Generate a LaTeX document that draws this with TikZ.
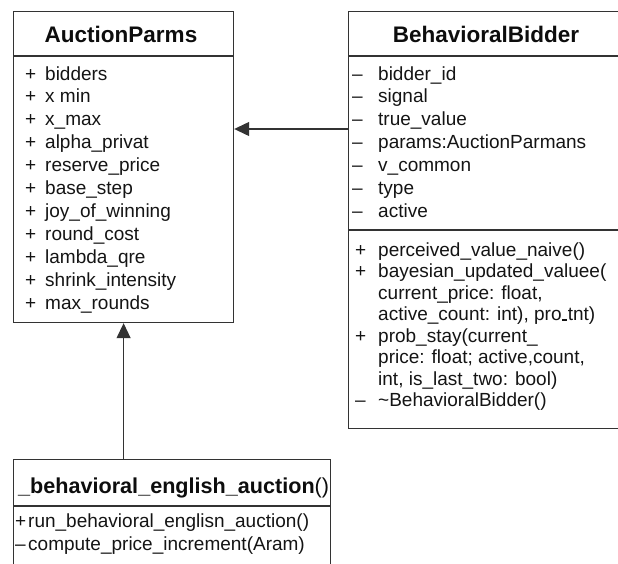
\documentclass[tikz,border=0pt]{standalone}
\usepackage{fontspec}
\setmainfont{Liberation Sans}
\usetikzlibrary{arrows.meta}
\newcommand{\sg}[2]{\makebox[#1][l]{#2}}
\newcommand{\lowbar}{\kern0.6pt\rule{5pt}{1.5pt}\kern0.6pt}
\begin{document}
\begin{tikzpicture}[x=1pt,y=-1pt,
  box/.style={draw=black!80,line width=1.2pt,rectangle,inner sep=0pt,anchor=north west},
  sep/.style={draw=black!80,line width=1.2pt},
  title/.style={inner sep=0pt,anchor=base,text=black!95,font=\fontsize{22.5}{26}\selectfont\bfseries},
  list/.style={inner sep=0pt,anchor=base west,text=black!92,font=\fontsize{19}{22.9}\selectfont},
  meth/.style={list,font=\fontsize{19}{21.5}\selectfont},
  inherit/.style={draw=black!80,line width=1.2pt,-{Triangle[length=15pt,width=14pt]}}]
\useasboundingbox (0,0) rectangle (618,563);

% class boxes
\node[box,minimum width=220pt,minimum height=311pt] (ap) at (13,11) {};
\node[box,minimum width=274pt,minimum height=417pt] (bb) at (348,11) {};
\node[box,minimum width=317pt,minimum height=116pt] (ba) at (13,459) {};

% compartment separators
\draw[sep] ([yshift=-45pt]ap.north west) -- ([yshift=-45pt]ap.north east);
\draw[sep] ([yshift=-45pt]bb.north west) -- ([yshift=-45pt]bb.north east);
\draw[sep] ([yshift=-219pt]bb.north west) -- ([yshift=-219pt]bb.north east);
\draw[sep] ([yshift=-47pt]ba.north west) -- ([yshift=-47pt]ba.north east);

% AuctionParms
\node[title] (aptitle) at (121,42) {AuctionParms};
\node[list] (apattr) at (25,80) {\begin{tabular}[t]{@{}l@{}}
\sg{20pt}{+}bidders\\
\sg{20pt}{+}x min\\
\sg{20pt}{+}x\_max\\
\sg{20pt}{+}alpha\_privat\\
\sg{20pt}{+}reserve\_price\\
\sg{20pt}{+}base\_step\\
\sg{20pt}{+}joy\_of\_winning\\
\sg{20pt}{+}round\_cost\\
\sg{20pt}{+}lambda\_qre\\
\sg{20pt}{+}shrink\_intensity\\
\sg{20pt}{+}max\_rounds
\end{tabular}};

% BehavioralBidder
\node[title] (bbtitle) at (486,42) {BehavioralBidder};
\node[list] (bbattr) at (352,80) {\begin{tabular}[t]{@{}l@{}}
\sg{26pt}{–}bidder\_id\\
\sg{26pt}{–}signal\\
\sg{26pt}{–}true\_value\\
\sg{26pt}{–}params:AuctionParmans\\
\sg{26pt}{–}v\_common\\
\sg{26pt}{–}type\\
\sg{26pt}{–}active
\end{tabular}};
\node[meth] (bbmeth) at (355,256) {\begin{tabular}[t]{@{}l@{}}
\sg{23pt}{+}perceived\_value\_naive()\\
\sg{23pt}{+}bayesian\_updated\_valuee(\\
\sg{23pt}{}current\_price: float,\\
\sg{23pt}{}active\_count: int), pro\lowbar tnt)\\
\sg{23pt}{+}prob\_stay(current\_\\
\sg{23pt}{}price: float; active,count,\\
\sg{23pt}{}int, is\_last\_two: bool)\\
\sg{23pt}{–}\textasciitilde BehavioralBidder()
\end{tabular}};

% _behavioral_english_auction()
\node[title,anchor=base west,font=\fontsize{21.6}{25}\selectfont\bfseries] (batitle) at (18,493) {\_behavioral\_english\_auction\mdseries()};
\node[list,font=\fontsize{19}{23}\selectfont] (bameth) at (15,527) {\begin{tabular}[t]{@{}l@{}}
\sg{13pt}{+}run\_behavioral\_englisn\_auction()\\
\sg{13pt}{–}compute\_price\_increment(Aram)
\end{tabular}};

% relations
\coordinate (link) at (290,129);
\draw[inherit] (bb.west |- link) -- (ap.east |- link);
\draw[inherit] (ba.north -| ap.south) -- (ap.south);
\end{tikzpicture}
\end{document}
